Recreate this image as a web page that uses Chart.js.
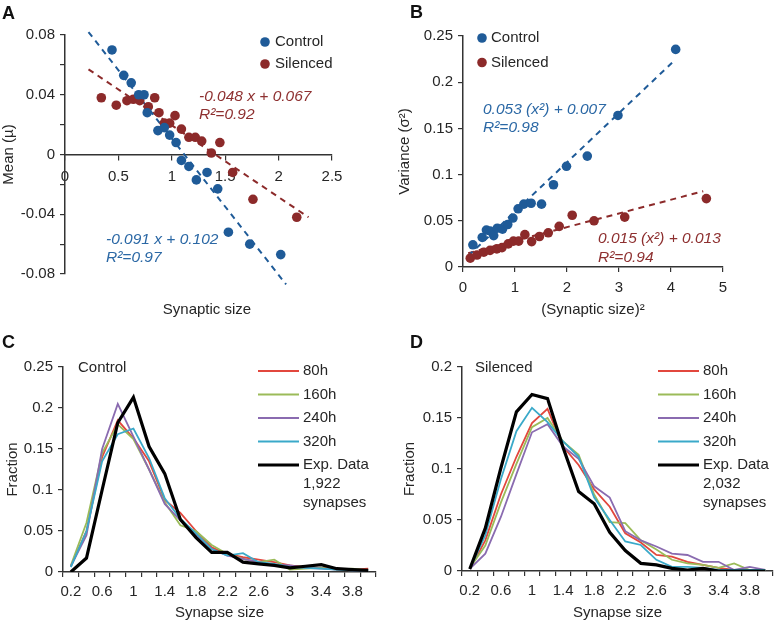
<!DOCTYPE html>
<html>
<head>
<meta charset="utf-8">
<script src="https://cdn.jsdelivr.net/npm/chart.js@4.4.0/dist/chart.umd.min.js"></script>
<style>
  body { margin: 0; background: #fff; }
  #page { position: relative; width: 775px; height: 625px; overflow: hidden; }
  .panel { position: absolute; }
  .letter { position: absolute; font: bold 18px "Liberation Sans", Arial, sans-serif; line-height: 18px; color: #111; }
</style>
</head>
<body>
<div id="page">
  <div class="panel" style="left:0;top:0"><canvas id="chartA" width="385" height="322"></canvas></div>
  <div class="panel" style="left:385px;top:0"><canvas id="chartB" width="390" height="322"></canvas></div>
  <div class="panel" style="left:0;top:325px"><canvas id="chartC" width="385" height="300"></canvas></div>
  <div class="panel" style="left:385px;top:325px"><canvas id="chartD" width="390" height="300"></canvas></div>
  <div class="letter" style="left:2px;top:4px">A</div>
  <div class="letter" style="left:410px;top:3px">B</div>
  <div class="letter" style="left:2px;top:333px">C</div>
  <div class="letter" style="left:410px;top:333px">D</div>
</div>
<script>
// ---- data ----
// A: mean vs synaptic size
const meanCtrlX = [0.44, 0.55, 0.62, 0.69, 0.74, 0.77, 0.87, 0.93, 0.98, 1.04, 1.09, 1.16, 1.23, 1.33, 1.43, 1.53, 1.73, 2.02];
const meanCtrlY = [0.070, 0.053, 0.048, 0.040, 0.040, 0.028, 0.016, 0.018, 0.013, 0.008, -0.004, -0.008, -0.017, -0.012, -0.023, -0.052, -0.060, -0.067];
const meanSilX = [0.34, 0.48, 0.58, 0.64, 0.70, 0.78, 0.84, 0.88, 0.93, 0.98, 1.03, 1.09, 1.16, 1.22, 1.28, 1.37, 1.45, 1.57, 1.76, 2.17];
const meanSilY = [0.038, 0.033, 0.036, 0.037, 0.036, 0.032, 0.038, 0.028, 0.021, 0.021, 0.026, 0.017, 0.0115, 0.0115, 0.009, 0.001, 0.008, -0.012, -0.030, -0.042];
const meanFitCtrlX = [0.22, 2.07];
const meanFitCtrlY = [0.082, -0.087];
const meanFitSilX = [0.22, 2.28];
const meanFitSilY = [0.057, -0.042];

// B: variance vs (synaptic size)^2
const varCtrlX = [0.19, 0.37, 0.45, 0.52, 0.59, 0.66, 0.76, 0.86, 0.96, 1.06, 1.17, 1.31, 1.51, 1.74, 1.99, 2.39, 2.98, 4.09];
const varCtrlY = [0.024, 0.032, 0.040, 0.039, 0.034, 0.042, 0.041, 0.046, 0.053, 0.063, 0.068, 0.069, 0.068, 0.089, 0.109, 0.120, 0.164, 0.2355];
const varSilX = [0.14, 0.27, 0.40, 0.52, 0.65, 0.75, 0.87, 0.97, 1.07, 1.19, 1.32, 1.47, 1.64, 1.85, 2.10, 2.52, 3.11, 4.68];
const varSilY = [0.0096, 0.013, 0.016, 0.018, 0.0196, 0.021, 0.025, 0.028, 0.028, 0.035, 0.0275, 0.033, 0.037, 0.044, 0.056, 0.050, 0.054, 0.074];
const varFitCtrlX = [0.1, 4.02];
const varFitCtrlY = [0.012, 0.221];
const varFitSilX = [0.1, 4.62];
const varFitSilY = [0.015, 0.082];

// C, D: synapse size distributions
const sizeBins = ['0.2', '0.4', '0.6', '0.8', '1', '1.2', '1.4', '1.6', '1.8', '2', '2.2', '2.4', '2.6', '2.8', '3', '3.2', '3.4', '3.6', '3.8', '4'];
const ctrl80 = [0.007, 0.05, 0.14, 0.185, 0.163, 0.135, 0.088, 0.072, 0.05, 0.03, 0.022, 0.018, 0.015, 0.012, 0.008, 0.006, 0.005, 0.004, 0.003, 0.004];
const ctrl160 = [0.008, 0.06, 0.145, 0.18, 0.162, 0.125, 0.085, 0.057, 0.05, 0.033, 0.022, 0.016, 0.012, 0.015, 0.003, 0.004, 0.005, 0.003, 0.004, 0.002];
const ctrl240 = [0.007, 0.045, 0.15, 0.205, 0.165, 0.125, 0.083, 0.063, 0.045, 0.028, 0.02, 0.016, 0.012, 0.009, 0.008, 0.005, 0.004, 0.003, 0.002, 0.002];
const ctrl320 = [0.006, 0.05, 0.135, 0.168, 0.175, 0.139, 0.09, 0.065, 0.047, 0.028, 0.02, 0.023, 0.012, 0.01, 0.006, 0.005, 0.004, 0.003, 0.002, 0.002];
const ctrlExp = [0, 0.017, 0.1, 0.182, 0.213, 0.153, 0.12, 0.064, 0.042, 0.024, 0.024, 0.012, 0.01, 0.008, 0.005, 0.007, 0.009, 0.004, 0.003, 0.002];
const sil80 = [0.002, 0.03, 0.075, 0.112, 0.145, 0.159, 0.122, 0.104, 0.08, 0.063, 0.037, 0.028, 0.0157, 0.014, 0.009, 0.006, 0.003, 0.001, 0.001, 0.001];
const sil160 = [0.003, 0.025, 0.067, 0.105, 0.141, 0.15, 0.127, 0.114, 0.075, 0.048, 0.047, 0.03, 0.021, 0.011, 0.0075, 0.006, 0.003, 0.0075, 0.001, 0.001];
const sil240 = [0.002, 0.017, 0.053, 0.095, 0.136, 0.144, 0.122, 0.11, 0.083, 0.072, 0.039, 0.03, 0.024, 0.017, 0.0157, 0.009, 0.009, 0.001, 0.004, 0.001];
const sil320 = [0.002, 0.035, 0.09, 0.137, 0.16, 0.146, 0.127, 0.112, 0.072, 0.05, 0.029, 0.0255, 0.011, 0.004, 0.004, 0.003, 0.001, 0.001, 0.001, 0.001];
const silExp = [0.002, 0.042, 0.101, 0.156, 0.173, 0.169, 0.121, 0.078, 0.066, 0.038, 0.02, 0.0075, 0.006, 0.0026, 0.001, 0.0026, 0, 0, 0, 0];

// ---- styles ----
const FONT = '"Liberation Sans", Arial, Helvetica, sans-serif';
const TEXT = '#262626';
const AXIS = '#333333';
const BLUE = '#1f5b98';
const RED = '#8c2a2a';
const BLUE_TXT = '#2b68a5';
const RED_TXT = '#8e3030';

Chart.defaults.font.family = FONT;
Chart.defaults.font.size = 15;
Chart.defaults.color = TEXT;

const zip = (xs, ys) => xs.map((x, i) => ({ x: x, y: ys[i] }));
// plain number labels: 0.2 instead of 0.20
const plain = v => String(Math.round(v * 100) / 100);

// free text drawn on the canvas (equations, panel notes)
const notesPlugin = {
    id: 'notes',
    afterDraw(chart, args, opts) {
        const ctx = chart.ctx;
        (opts.items || []).forEach(it => {
            ctx.save();
            ctx.font = (it.italic ? 'italic ' : '') + (it.size || 15) + 'px ' + FONT;
            ctx.fillStyle = it.color || TEXT;
            ctx.textAlign = it.align || 'left';
            ctx.textBaseline = 'middle';
            ctx.fillText(it.text, it.x, it.y);
            ctx.restore();
        });
    }
};

// legend inside the plot, built from the labelled datasets
const keyPlugin = {
    id: 'key',
    afterDraw(chart, args, opts) {
        if (opts.x === undefined) return;
        const ctx = chart.ctx;
        let y = opts.y;
        chart.data.datasets.forEach(ds => {
            if (!ds.label) return;
            ctx.save();
            if (opts.dot) {
                ctx.fillStyle = ds.backgroundColor;
                ctx.beginPath();
                ctx.arc(opts.x, y, ds.pointRadius, 0, 2 * Math.PI);
                ctx.fill();
            } else {
                ctx.strokeStyle = ds.borderColor;
                ctx.lineWidth = ds.borderWidth;
                ctx.beginPath();
                ctx.moveTo(opts.x, y);
                ctx.lineTo(opts.x + opts.len, y);
                ctx.stroke();
            }
            ctx.font = '15px ' + FONT;
            ctx.fillStyle = TEXT;
            ctx.textBaseline = 'middle';
            [].concat(ds.label).forEach((t, i) => ctx.fillText(t, opts.textX, y + i * (opts.lineH || 18)));
            ctx.restore();
            y += opts.dy;
        });
    }
};

const tickGrid = { display: true, drawOnChartArea: false, drawTicks: true, tickLength: 5, color: AXIS, lineWidth: 1.2 };
const axisBorder = { display: true, color: AXIS, width: 1.5 };

function dotSet(label, xs, ys, color, order) {
    return { label: label, data: zip(xs, ys), backgroundColor: color, borderColor: color,
             pointRadius: 4.8, pointBorderWidth: 0, order: order };
}
function fitSet(xs, ys, color) {
    return { data: zip(xs, ys), showLine: true, borderColor: color, borderWidth: 2, borderDash: [6, 5],
             pointRadius: 0, clip: false, order: 5 };
}
function distSet(label, values, color, width, order) {
    return { label: label, data: values, borderColor: color, backgroundColor: color, borderWidth: width,
             pointRadius: 0, tension: 0, order: order };
}

const common = {
    responsive: false,
    devicePixelRatio: 1,
    animation: false,
    events: []
};

// ---- A: mean ----
new Chart(document.getElementById('chartA').getContext('2d'), {
    type: 'scatter',
    data: {
        datasets: [
            dotSet('Control', meanCtrlX, meanCtrlY, BLUE, 0),
            dotSet('Silenced', meanSilX, meanSilY, RED, 1),
            fitSet(meanFitCtrlX, meanFitCtrlY, BLUE),
            fitSet(meanFitSilX, meanFitSilY, RED)
        ]
    },
    options: Object.assign({}, common, {
        layout: { padding: { top: 35, right: 53, bottom: 48, left: 0 } },
        scales: {
            x: {
                type: 'linear', min: 0, max: 2.5, position: { y: 0 },
                ticks: { stepSize: 0.5, padding: 8, color: TEXT, callback: plain },
                grid: tickGrid, border: axisBorder
            },
            y: {
                type: 'linear', min: -0.08, max: 0.08,
                ticks: {
                    stepSize: 0.02, padding: 5, color: TEXT,
                    callback: v => { const r = Math.round(v * 100); return r % 4 === 0 ? String(r / 100) : ''; }
                },
                grid: tickGrid, border: axisBorder,
                title: { display: true, text: 'Mean (µ)', padding: { top: 0, bottom: 0 } },
                afterFit: s => { s.width = 65; }
            }
        },
        plugins: {
            legend: { display: false },
            tooltip: { enabled: false },
            key: { dot: true, x: 265, textX: 275, y: 42, dy: 22 },
            notes: { items: [
                { text: '-0.048 x + 0.067', x: 199, y: 97, italic: true, size: 15.5, color: RED_TXT },
                { text: 'R²=0.92', x: 199, y: 115, italic: true, size: 15.5, color: RED_TXT },
                { text: '-0.091 x + 0.102', x: 106, y: 240, italic: true, size: 15.5, color: BLUE_TXT },
                { text: 'R²=0.97', x: 106, y: 258, italic: true, size: 15.5, color: BLUE_TXT },
                { text: 'Synaptic size', x: 207, y: 310, align: 'center' }
            ] }
        }
    }),
    plugins: [notesPlugin, keyPlugin]
});

// ---- B: variance ----
new Chart(document.getElementById('chartB').getContext('2d'), {
    type: 'scatter',
    data: {
        datasets: [
            dotSet('Control', varCtrlX, varCtrlY, BLUE, 0),
            dotSet('Silenced', varSilX, varSilY, RED, 1),
            fitSet(varFitCtrlX, varFitCtrlY, BLUE),
            fitSet(varFitSilX, varFitSilY, RED)
        ]
    },
    options: Object.assign({}, common, {
        layout: { padding: { top: 36, right: 52, bottom: 0, left: 0 } },
        scales: {
            x: {
                type: 'linear', min: 0, max: 5,
                ticks: { stepSize: 1, padding: 7, color: TEXT, callback: plain },
                grid: tickGrid, border: axisBorder,
                title: { display: true, text: '(Synaptic size)²', padding: { top: 0, bottom: 3 } },
                afterFit: s => { s.height = 55; }
            },
            y: {
                type: 'linear', min: 0, max: 0.25,
                ticks: { stepSize: 0.05, padding: 5, color: TEXT, callback: plain },
                grid: tickGrid, border: axisBorder,
                title: { display: true, text: 'Variance (σ²)', padding: { top: 11, bottom: 0 } },
                afterFit: s => { s.width = 78; }
            }
        },
        plugins: {
            legend: { display: false },
            tooltip: { enabled: false },
            key: { dot: true, x: 97, textX: 106, y: 38, dy: 24.5 },
            notes: { items: [
                { text: '0.053 (x²) + 0.007', x: 98, y: 110, italic: true, size: 15.5, color: BLUE_TXT },
                { text: 'R²=0.98', x: 98, y: 128, italic: true, size: 15.5, color: BLUE_TXT },
                { text: '0.015 (x²) + 0.013', x: 213, y: 239, italic: true, size: 15.5, color: RED_TXT },
                { text: 'R²=0.94', x: 213, y: 258, italic: true, size: 15.5, color: RED_TXT }
            ] }
        }
    }),
    plugins: [notesPlugin, keyPlugin]
});

// ---- C and D: distributions ----
function distChart(id, series, expLabel, yMax, yAxisWidth, yTitlePad, rightPad, xHeight, note, keyX) {
    new Chart(document.getElementById(id).getContext('2d'), {
        type: 'line',
        data: {
            labels: sizeBins,
            datasets: [
                distSet('80h', series[0], '#e2473d', 1.8, 4),
                distSet('160h', series[1], '#9bbb59', 1.8, 3),
                distSet('240h', series[2], '#8a6bb0', 1.8, 2),
                distSet('320h', series[3], '#3aa9c9', 1.8, 1),
                distSet(expLabel, series[4], '#000000', 3.2, 0)
            ]
        },
        options: Object.assign({}, common, {
            layout: { padding: { top: 42, right: rightPad, bottom: 0, left: 0 } },
            scales: {
                x: {
                    type: 'category', offset: true,
                    ticks: {
                        autoSkip: false, maxRotation: 0, padding: 6, color: TEXT,
                        callback: function (value, index) { return index % 2 === 0 ? this.getLabelForValue(value) : ''; }
                    },
                    grid: Object.assign({}, tickGrid, { offset: true }),
                    border: axisBorder,
                    title: { display: true, text: 'Synapse size', padding: { top: 0, bottom: 3 } },
                    afterFit: s => { s.height = xHeight; }
                },
                y: {
                    type: 'linear', min: 0, max: yMax,
                    ticks: { stepSize: 0.05, padding: 5, color: TEXT, callback: plain },
                    grid: tickGrid, border: axisBorder,
                    title: { display: true, text: 'Fraction', padding: { top: yTitlePad, bottom: 0 } },
                    afterFit: s => { s.width = yAxisWidth; }
                }
            },
            plugins: {
                legend: { display: false },
                tooltip: { enabled: false },
                key: { dot: false, x: keyX, len: 41, textX: keyX + 45, y: 46, dy: 23.5, lineH: 19 },
                notes: { items: [note] }
            }
        }),
        plugins: [notesPlugin, keyPlugin]
    });
}

distChart('chartC', [ctrl80, ctrl160, ctrl240, ctrl320, ctrlExp], ['Exp. Data', '1,922', 'synapses'],
          0.25, 63, 4, 9, 53, { text: 'Control', x: 78, y: 43 }, 258);
distChart('chartD', [sil80, sil160, sil240, sil320, silExp], ['Exp. Data', '2,032', 'synapses'],
          0.2, 77, 16, 2, 54, { text: 'Silenced', x: 90, y: 43 }, 273);
</script>
</body>
</html>
